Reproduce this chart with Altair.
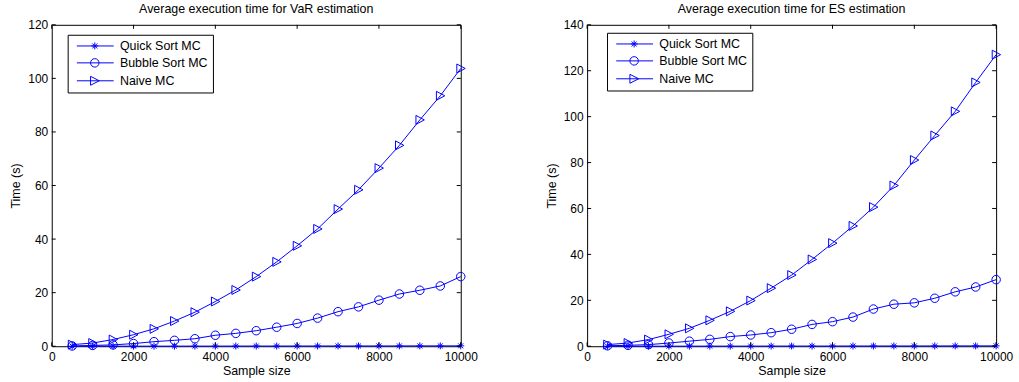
import altair as alt
import pandas as pd

BLUE = "#0000ff"
FONT = "Liberation Sans"

sizes = [500, 1000, 1500, 2000, 2500, 3000, 3500, 4000, 4500, 5000,
         5500, 6000, 6500, 7000, 7500, 8000, 8500, 9000, 9500, 10000]

var_quick = [0.01, 0.01, 0.02, 0.03, 0.03, 0.04, 0.05, 0.05, 0.06, 0.07,
             0.07, 0.08, 0.09, 0.1, 0.1, 0.11, 0.12, 0.13, 0.13, 0.14]
var_bubble = [0.1, 0.3, 0.5, 1.0, 1.7, 2.2, 2.8, 4.1, 4.8, 5.8,
              7.1, 8.5, 10.5, 12.9, 14.7, 17.2, 19.5, 20.9, 22.5, 26.0]
var_naive = [0.6, 1.2, 2.5, 4.3, 6.5, 9.4, 12.7, 16.7, 21.0, 26.0,
             31.5, 37.5, 43.8, 51.2, 58.4, 66.5, 75.0, 84.5, 93.5, 103.7]

es_quick = [0.01, 0.02, 0.02, 0.03, 0.04, 0.05, 0.05, 0.06, 0.07, 0.08,
            0.08, 0.09, 0.1, 0.11, 0.12, 0.12, 0.13, 0.14, 0.15, 0.16]
es_bubble = [0.2, 0.4, 0.7, 1.4, 2.2, 3.0, 4.2, 4.9, 5.9, 7.4,
             9.5, 10.7, 12.7, 16.2, 18.3, 18.9, 20.9, 23.7, 25.8, 29.0]
es_naive = [0.7, 1.4, 2.9, 5.2, 7.8, 11.3, 15.2, 19.9, 25.3, 31.0,
            37.8, 44.9, 52.4, 60.6, 70.0, 81.1, 91.8, 102.3, 114.9, 127.0]

series_names = ["Quick Sort MC", "Bubble Sort MC", "Naive MC"]
x_ticks = [0, 2000, 4000, 6000, 8000, 10000]
var_y_ticks = [0, 20, 40, 60, 80, 100, 120]
es_y_ticks = [0, 20, 40, 60, 80, 100, 120, 140]

W, H = 411, 323
TICK = 4

# marker shapes (unit box -1..1)
marker_paths = [
    "M-0.78,0H0.78M0,-0.78V0.78M-0.55,-0.55L0.55,0.55M-0.55,0.55L0.55,-0.55",
    "M0.95,0A0.95,0.95 0 1,1 -0.95,0A0.95,0.95 0 1,1 0.95,0Z",
    "M-0.87,-1L1,0L-0.87,1Z",
]
# legend symbols: line segment with marker
legend_paths = [
    "M-0.4,0H7M2.5,0H3.9M3.2,-0.7V0.7M2.7,-0.5L3.7,0.5M2.7,0.5L3.7,-0.5",
    "M-0.4,0H7M4.05,0A0.85,0.85 0 1,1 2.35,0A0.85,0.85 0 1,1 4.05,0Z",
    "M-0.4,0H7M2.35,-0.9L4.1,0L2.35,0.9Z",
]


def panel(title, quick, bubble, naive, yticks, ymax, lx, ly):
    df = pd.DataFrame({
        "size": sizes * 3,
        "time": quick + bubble + naive,
        "series": [series_names[0]] * len(sizes) + [series_names[1]] * len(sizes)
        + [series_names[2]] * len(sizes),
    })
    xs = alt.Scale(domain=[0, 10000], nice=False, zero=True)
    ys = alt.Scale(domain=[0, ymax], nice=False, zero=True)
    xax = alt.Axis(values=x_ticks, title="Sample size", labelFlush=False,
                   labelOverlap=False, format="d", labelPadding=5, titlePadding=2)
    yax = alt.Axis(values=yticks, title="Time (s)", labelPadding=4,
                   titlePadding=5, format="d")
    x = alt.X("size:Q", scale=xs, axis=xax)
    y = alt.Y("time:Q", scale=ys, axis=yax)
    base = alt.Chart(df)
    lines = base.mark_line(color=BLUE, strokeWidth=1).encode(x=x, y=y, detail="series:N")
    pts = base.mark_point(filled=False, color=BLUE, strokeWidth=1, size=81, opacity=1).encode(
        x=x, y=y,
        shape=alt.Shape("series:N", scale=alt.Scale(domain=series_names, range=marker_paths),
                        legend=None),
    )
    leg = base.transform_filter("false").mark_point(
        filled=False, color=BLUE, strokeWidth=1, opacity=1
    ).encode(
        shape=alt.Shape("series:N", scale=alt.Scale(domain=series_names, range=legend_paths),
                        legend=alt.Legend(orient="none", legendX=lx, legendY=ly, title=None,
                                          padding=5, strokeColor="black", fillColor="white",
                                          symbolSize=100, labelOffset=35, rowPadding=4,
                                          labelFont=FONT, labelFontSize=12.5,
                                          labelColor="black", symbolStrokeColor=BLUE,
                                          symbolStrokeWidth=1, symbolFillColor="transparent",
                                          cornerRadius=0))
    )
    xt = pd.DataFrame({"size": x_ticks})
    yt = pd.DataFrame({"time": yticks})
    t1 = alt.Chart(xt).mark_rule(color="black", strokeWidth=1).encode(
        x=x, y=alt.value(H), y2=alt.value(H - TICK))
    t2 = alt.Chart(xt).mark_rule(color="black", strokeWidth=1).encode(
        x=x, y=alt.value(0), y2=alt.value(TICK))
    t3 = alt.Chart(yt).mark_rule(color="black", strokeWidth=1).encode(
        y=y, x=alt.value(0), x2=alt.value(TICK))
    t4 = alt.Chart(yt).mark_rule(color="black", strokeWidth=1).encode(
        y=y, x=alt.value(W - TICK), x2=alt.value(W))
    return alt.layer(lines, pts, leg, t1, t2, t3, t4).resolve_scale(
        shape="independent"
    ).properties(
        width=W, height=H,
        title=alt.Title(title, font=FONT, fontSize=12.5, fontWeight="normal",
                        color="black", offset=3),
    )


left = panel("Average execution time for VaR estimation", var_quick, var_bubble, var_naive,
             var_y_ticks, 120, 16, 10)
right = panel("Average execution time for ES estimation", es_quick, es_bubble, es_naive,
              es_y_ticks, 140, 20, 8)

chart = alt.hconcat(left, right, spacing=127, bounds="flush").properties(
    padding={"left": 9, "top": 2, "right": 5, "bottom": 2},
    background="white",
).configure_view(
    stroke="black", strokeWidth=1
).configure_axis(
    grid=False, domain=False, ticks=False,
    labelFont=FONT, labelFontSize=12, labelColor="black",
    titleFont=FONT, titleFontSize=12.5, titleFontWeight="normal", titleColor="black",
)

chart.save("out.html", embed_options={"renderer": "svg", "actions": False})
